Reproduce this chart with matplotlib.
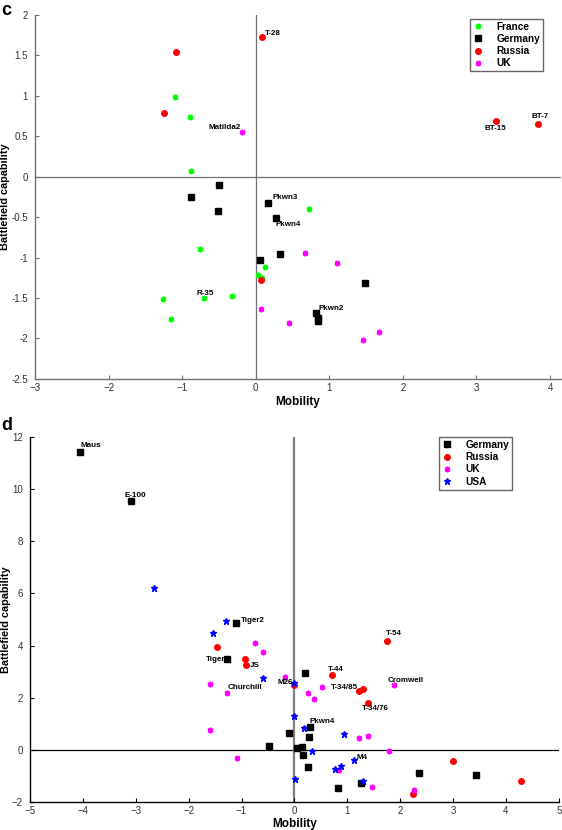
import matplotlib
matplotlib.use("Agg")
import matplotlib.pyplot as plt

plt.rcParams['font.family'] = ['Liberation Sans Narrow', 'Liberation Sans', 'DejaVu Sans']

# ---------------- Panel c data ----------------
c_france_x = [-1.10, -0.90, -0.88, -0.755, 0.12, 0.03, 0.09, -1.26, -0.70, -0.32, -1.15, 0.72]
c_france_y = [0.98, 0.73, 0.07, -0.89, -1.12, -1.21, -1.25, -1.51, -1.50, -1.47, -1.76, -0.40]
c_germany_x = [-0.50, -0.88, -0.51, 0.17, 0.275, 0.33, 0.06, 1.49, 0.82, 0.84, 0.84]
c_germany_y = [-0.106, -0.25, -0.43, -0.325, -0.51, -0.955, -1.03, -1.31, -1.68, -1.75, -1.79]
c_russia_x = [-1.09, 0.09, -1.24, 0.07, 3.27, 3.84]
c_russia_y = [1.536, 1.72, 0.78, -1.28, 0.68, 0.65]
c_uk_x = [-0.19, 0.07, 0.45, 0.67, 1.10, 1.67, 1.46]
c_uk_y = [0.556, -1.63, -1.81, -0.94, -1.07, -1.92, -2.02]

c_labels = ["T-28", "Matilda2", "BT-15", "BT-7", "Pkwn3", "Pkwn4", "R-35", "Pkwn2"]
c_label_x = [0.09, -0.19, 3.27, 3.84, 0.17, 0.275, -0.70, 0.82]
c_label_y = [1.72, 0.556, 0.68, 0.65, -0.325, -0.51, -1.50, -1.68]
c_label_off = [(2, 3), (-1, 3), (-1, -5), (1, 5), (3, 4), (0, -5), (1, 3), (2, 3)]
c_label_ha = ["left", "right", "center", "center", "left", "left", "center", "left"]

# ---------------- Panel d data ----------------
d_germany_x = [-4.05, -3.09, -1.10, -1.28, -0.11, -0.49, 0.20, 0.29, 0.28, 0.04, 0.15, 0.16,
               0.25, 2.36, 3.43, 1.25, 0.82]
d_germany_y = [11.41, 9.54, 4.86, 3.47, 0.63, 0.13, 2.95, 0.86, 0.50, 0.09, 0.115, -0.21,
               -0.65, -0.90, -0.96, -1.27, -1.45]
d_russia_x = [-1.47, -0.93, -0.91, -0.01, 0.705, 1.23, 1.30, 1.39, 1.75, 2.99, 4.28, 2.25]
d_russia_y = [3.96, 3.47, 3.24, 2.50, 2.86, 2.24, 2.35, 1.81, 4.19, -0.42, -1.21, -1.69]
d_uk_x = [-0.75, -0.60, -0.17, -1.60, -1.27, -1.59, -1.08, 0.53, 0.25, 0.37, 1.88, 1.22,
          1.39, 1.78, 0.84, 1.47, 2.27]
d_uk_y = [4.08, 3.75, 2.81, 2.54, 2.19, 0.75, -0.31, 2.40, 2.19, 1.95, 2.47, 0.46,
          0.52, -0.04, -0.78, -1.41, -1.54]
d_usa_x = [-2.65, -1.29, -1.54, -0.60, -0.01, -0.01, 0.18, 0.94, 0.33, 1.13, 0.76, 0.875,
           0.01, 1.29]
d_usa_y = [6.22, 4.93, 4.48, 2.77, 2.58, 1.31, 0.83, 0.59, -0.05, -0.38, -0.72, -0.63,
           -1.12, -1.19]

d_labels = ["Maus", "E-100", "Tiger2", "Tiger", "JS", "Churchill", "M26", "T-54", "T-44",
            "Cromwell", "T-34/85", "T-34/76", "Pkwn4", "M4"]
d_label_x = [-4.05, -3.09, -1.10, -1.28, -0.91, -1.27, -0.01, 1.75, 0.705, 1.88, 1.23, 1.39,
             0.29, 1.13]
d_label_y = [11.41, 9.54, 4.86, 3.47, 3.24, 2.19, 2.58, 4.19, 2.86, 2.47, 2.24, 1.81, 0.86,
             -0.38]
d_label_off = [(0, 5), (3, 4), (3, 2), (-1, 0), (2.5, 0), (0.5, 4), (-1, 0), (-0.5, 5),
               (-2.7, 4), (-4.3, 3.6), (-1, 2.7), (-4.5, -4), (0, 4), (2, 2)]
d_label_ha = ["left", "center", "left", "right", "left", "left", "right", "left", "left",
              "left", "right", "left", "left", "left"]

fig = plt.figure(figsize=(5.62, 8.3), dpi=100)

label_font = dict(fontsize=5.8, fontweight='bold')


def asterisk():
    return (6, 2, 0)


def style_axes(ax, spine_color):
    for s in ['top', 'right']:
        ax.spines[s].set_visible(False)
    for s in ['left', 'bottom']:
        ax.spines[s].set_color(spine_color)
        ax.spines[s].set_linewidth(1.0)
    ax.tick_params(direction='in', length=3, width=0.8, colors=spine_color,
                   labelcolor='#303030', labelsize=7, pad=3)
    ax.tick_params(axis='y', pad=5)


# ---------------- Panel c ----------------
ax1 = fig.add_axes([0.0623, 0.5434, 0.936, 0.439])
ax1.axhline(0, color='#707070', lw=0.9, zorder=1)
ax1.axvline(0, color='#707070', lw=0.9, zorder=1)
ax1.plot(c_france_x, c_france_y, ls='none', marker=asterisk(), color='#00ff00',
         mec='#00ff00', ms=4, mew=1.3, label='France', zorder=3)
ax1.plot(c_germany_x, c_germany_y, ls='none', marker='s', color='black', ms=4.5,
         label='Germany', zorder=3)
ax1.plot(c_russia_x, c_russia_y, ls='none', marker='o', color='#ff0000', ms=4,
         label='Russia', zorder=3)
ax1.plot(c_uk_x, c_uk_y, ls='none', marker=asterisk(), color='#ff00ff', mec='#ff00ff',
         ms=4, mew=1.3, label='UK', zorder=3)
for t, x, y, off, ha in zip(c_labels, c_label_x, c_label_y, c_label_off, c_label_ha):
    ax1.annotate(t, xy=(x, y), xytext=off, textcoords='offset points', ha=ha,
                 va='center', **label_font)
ax1.set_xlim(-3, 4.15)
ax1.set_ylim(-2.5, 2)
ax1.set_xticks([-3, -2, -1, 0, 1, 2, 3, 4])
ax1.set_yticks([-2.5, -2, -1.5, -1, -0.5, 0, 0.5, 1, 1.5, 2])
ax1.set_yticklabels(['-2.5', '-2', '-1.5', '-1', '-0.5', '0', '0.5', '1', '1.5', '2'])
style_axes(ax1, '#707070')
ax1.set_xlabel('Mobility', fontsize=8.5, fontweight='bold', va='center')
ax1.xaxis.set_label_coords(0.5, -0.062)
ax1.set_ylabel('Battlefield capability', fontsize=7.8, fontweight='bold', va='center')
ax1.yaxis.set_label_coords(-0.057, 0.5)
leg1 = ax1.legend(loc='upper left', bbox_to_anchor=(0.827, 0.989),
                  prop=dict(weight='bold', size=7.3), frameon=True, fancybox=False,
                  handlelength=1.0, handletextpad=1.3, borderpad=0.3, labelspacing=0.22,
                  borderaxespad=0)
leg1.get_frame().set_edgecolor('#404040')
leg1.get_frame().set_linewidth(1.0)
fig.text(0.002, 0.998, 'c', fontsize=13, fontweight='bold', va='top', ha='left')

# ---------------- Panel d ----------------
ax2 = fig.add_axes([0.0534, 0.0337, 0.941, 0.4398])
ax2.axhline(0, color='black', lw=0.9, zorder=1)
ax2.axvline(0, color='#808080', lw=1.6, zorder=1)
ax2.plot(d_germany_x, d_germany_y, ls='none', marker='s', color='black', ms=4.5,
         label='Germany', zorder=3)
ax2.plot(d_russia_x, d_russia_y, ls='none', marker='o', color='#ff0000', ms=4,
         label='Russia', zorder=3)
ax2.plot(d_uk_x, d_uk_y, ls='none', marker=asterisk(), color='#ff00ff', mec='#ff00ff',
         ms=4, mew=1.3, label='UK', zorder=3)
ax2.plot(d_usa_x, d_usa_y, ls='none', marker='*', color='#0000ff', ms=4.5,
         label='USA', zorder=3)
for t, x, y, off, ha in zip(d_labels, d_label_x, d_label_y, d_label_off, d_label_ha):
    ax2.annotate(t, xy=(x, y), xytext=off, textcoords='offset points', ha=ha,
                 va='center', **label_font)
ax2.set_xlim(-5, 5)
ax2.set_ylim(-2, 12)
ax2.set_xticks(range(-5, 6))
ax2.set_yticks(range(-2, 13, 2))
style_axes(ax2, 'black')
ax2.set_xlabel('Mobility', fontsize=8.5, fontweight='bold', va='center')
ax2.xaxis.set_label_coords(0.5, -0.061)
ax2.set_ylabel('Battlefield capability', fontsize=7.8, fontweight='bold', va='center')
ax2.yaxis.set_label_coords(-0.046, 0.5)
leg2 = ax2.legend(loc='upper left', bbox_to_anchor=(0.774, 1.0),
                  prop=dict(weight='bold', size=7.3), frameon=True, fancybox=False,
                  handlelength=1.0, handletextpad=1.3, borderpad=0.3, labelspacing=0.22,
                  borderaxespad=0)
leg2.get_frame().set_edgecolor('#404040')
leg2.get_frame().set_linewidth(1.0)
fig.text(0.002, 0.497, 'd', fontsize=13, fontweight='bold', va='top', ha='left')

fig.savefig('out.png', dpi=100)
